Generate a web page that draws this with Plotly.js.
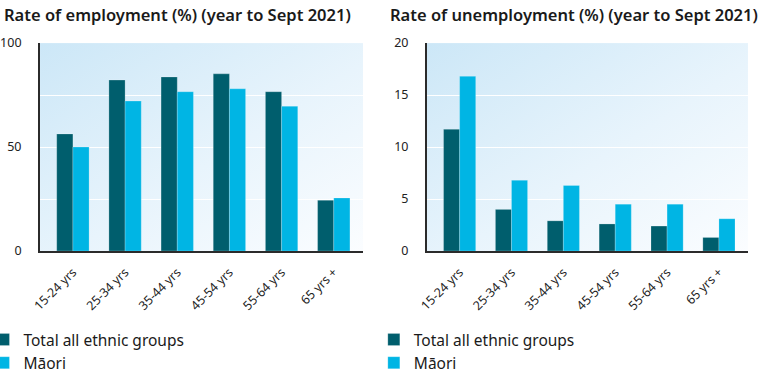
<!DOCTYPE html>
<html>
<head>
<meta charset="utf-8">
<script src="https://cdn.plot.ly/plotly-3.0.1.min.js"></script>
<style>html,body{margin:0;padding:0;background:#fff;}#chart{width:770px;height:378px;}</style>
</head>
<body>
<div id="chart"></div>
<script>
const categories = ["15-24 yrs", "25-34 yrs", "35-44 yrs", "45-54 yrs", "55-64 yrs", "65 yrs +"];
const employmentTotal = [56.3, 82.2, 83.7, 85.2, 76.6, 24.4];
const employmentMaori = [50.0, 72.1, 76.6, 78.0, 69.6, 25.5];
const unemploymentTotal = [11.7, 4.0, 2.9, 2.6, 2.4, 1.3];
const unemploymentMaori = [16.8, 6.8, 6.3, 4.5, 4.5, 3.1];
const seriesNames = ["Total all ethnic groups", "M\u0101ori"];
const titles = ["Rate of employment (%) (year to Sept 2021)", "Rate of unemployment (%) (year to Sept 2021)"];

const DARK = "#005e6d";
const LIGHT = "#00b5e4";
const FONT = "Noto Sans, Open Sans, sans-serif";

const gradSvg = '<svg xmlns="http://www.w3.org/2000/svg" width="400" height="260" preserveAspectRatio="none">' +
  '<defs><linearGradient id="g" x1="0" y1="0" x2="1" y2="1">' +
  '<stop offset="0" stop-color="#cce7f7"/><stop offset="0.55" stop-color="#e8f4fc"/><stop offset="1" stop-color="#fbfdff"/>' +
  '</linearGradient></defs><rect width="400" height="260" fill="url(#g)"/></svg>';
const gradUrl = "data:image/svg+xml;charset=utf-8," + encodeURIComponent(gradSvg);

const barLine = {width: 0.6, color: "rgba(255,255,255,0.35)"};

const traces = [
  {type: "bar", x: categories, y: employmentTotal, name: seriesNames[0], marker: {color: DARK, line: barLine}, xaxis: "x", yaxis: "y", legend: "legend"},
  {type: "bar", x: categories, y: employmentMaori, name: seriesNames[1], marker: {color: LIGHT, line: barLine}, xaxis: "x", yaxis: "y", legend: "legend"},
  {type: "bar", x: categories, y: unemploymentTotal, name: seriesNames[0], marker: {color: DARK, line: barLine}, xaxis: "x2", yaxis: "y2", legend: "legend2"},
  {type: "bar", x: categories, y: unemploymentMaori, name: seriesNames[1], marker: {color: LIGHT, line: barLine}, xaxis: "x2", yaxis: "y2", legend: "legend2"}
];

const xCommon = {
  type: "category", tickangle: -45, showgrid: false, zeroline: false,
  showline: true, linecolor: "#2b2b2b", linewidth: 2, ticks: "",
  tickfont: {family: FONT, size: 12.5, color: "#222"}, ticklabelstandoff: 7, range: [-0.63, 5.56], fixedrange: true,
  automargin: false
};
const yCommon = {
  showline: true, linecolor: "#2b2b2b", linewidth: 2, zeroline: false, ticks: "",
  showgrid: true, gridcolor: "#ffffff", gridwidth: 1,
  tickfont: {family: FONT, size: 12.5, color: "#222"}, ticklabelstandoff: 14, fixedrange: true,
  automargin: false
};

const legendCommon = {
  xanchor: "left", yanchor: "top", orientation: "v",
  font: {family: FONT, size: 15.5, color: "#1a1a1a"}, bgcolor: "rgba(0,0,0,0)", tracegroupgap: 0, itemwidth: 30
};

const layout = {
  width: 770, height: 378,
  margin: {l: 0, r: 0, t: 0, b: 0, autoexpand: false},
  paper_bgcolor: "#ffffff", plot_bgcolor: "rgba(0,0,0,0)",
  barmode: "group", bargap: 0.38, bargroupgap: 0,
  font: {family: FONT, color: "#222"},
  xaxis: Object.assign({}, xCommon, {domain: [0.052, 0.4714], anchor: "y"}),
  xaxis2: Object.assign({}, xCommon, {domain: [0.5545, 0.9714], anchor: "y2"}),
  yaxis: Object.assign({}, yCommon, {domain: [0.336, 0.886], anchor: "x", range: [0, 100], tickvals: [0, 50, 100],
    minor: {tickvals: [25, 75], showgrid: true, gridcolor: "#ffffff", gridwidth: 1}}),
  yaxis2: Object.assign({}, yCommon, {domain: [0.336, 0.886], anchor: "x2", range: [0, 20], tickvals: [0, 5, 10, 15, 20]}),
  images: [
    {source: gradUrl, xref: "x domain", yref: "y domain", x: 0, y: 1, sizex: 1, sizey: 1, sizing: "stretch", layer: "below", xanchor: "left", yanchor: "top"},
    {source: gradUrl, xref: "x2 domain", yref: "y2 domain", x: 0, y: 1, sizex: 1, sizey: 1, sizing: "stretch", layer: "below", xanchor: "left", yanchor: "top"}
  ],
  annotations: [
    {text: titles[0], xref: "paper", yref: "paper", x: 0.002, y: 1 - 15/378, xanchor: "left", yanchor: "middle", showarrow: false,
     font: {family: FONT, size: 16.5, color: "#1a1a1a", weight: 600}},
    {text: titles[1], xref: "paper", yref: "paper", x: 0.5045, y: 1 - 15/378, xanchor: "left", yanchor: "middle", showarrow: false,
     font: {family: FONT, size: 16.5, color: "#1a1a1a", weight: 600}}
  ],
  legend: Object.assign({}, legendCommon, {x: -0.0215, y: 1 - 323/378}),
  legend2: Object.assign({}, legendCommon, {x: 0.4855, y: 1 - 323/378}),
  showlegend: true
};

Plotly.newPlot("chart", traces, layout, {displayModeBar: false, staticPlot: true});
</script>
</body>
</html>
